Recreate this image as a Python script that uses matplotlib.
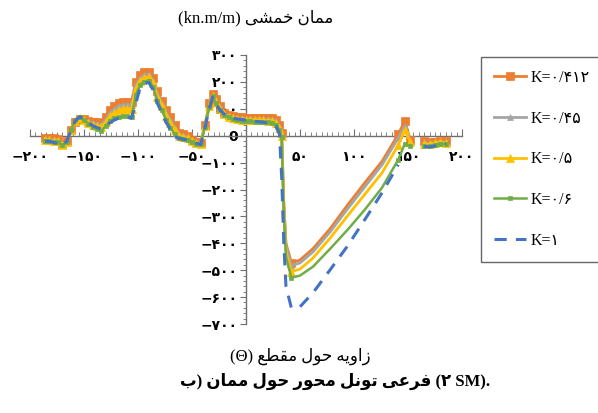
import matplotlib
matplotlib.use("Agg")
import numpy as np
import matplotlib.pyplot as plt
from matplotlib.ticker import FixedLocator, MultipleLocator, FuncFormatter
from matplotlib.font_manager import FontProperties

# ---------------- data ----------------
angle = [-186, -182, -178, -174, -170, -166, -162, -158, -154, -150,
         -146, -142, -138, -134, -130, -126, -122, -118, -114, -110,
         -106, -102, -98, -94, -90, -86, -82, -78, -74, -70,
         -66, -62, -58, -54, -50, -46, -42, -38, -34, -31,
         -28, -24, -20, -16, -12, -8, -4, 0, 4, 8,
         12, 16, 20, 24, 28, 31, 33, 35, 37, 42,
         50, 62, 78, 94, 110, 126, 141, 147, 152, np.nan,
         165, 170, 175, 180, 185]

m_k0412 = [-8, -10, -10, -12, -30, -20, 20, 50, 62, 62,
           55, 52, 50, 47, 70, 97, 110, 122, 125, 127,
           127, 200, 225, 235, 238, 215, 165, 130, 95, 71,
           40, 11, 5, 0, -15, -22, -26, 40, 120, 155,
           135, 110, 85, 78, 72, 70, 68, 67, 66, 66,
           66, 67, 67, 65, 60, 40, 11, -250, -400, -472,
           -462, -420, -345, -258, -175, -95, 5, 55, -15, np.nan,
           -20, -25, -22, -18, -20]

m_k045 = [-12, -14, -15, -16, -32, -22, 20, 52, 64, 60,
          52, 46, 42, 40, 60, 85, 98, 110, 113, 115,
          115, 190, 215, 225, 228, 205, 155, 120, 85, 60,
          30, 5, 0, -5, -18, -25, -28, 38, 115, 150,
          130, 105, 82, 74, 68, 66, 64, 63, 62, 62,
          62, 62, 61, 60, 55, 35, 5, -260, -410, -483,
          -473, -432, -357, -272, -190, -108, -8, 35, -18, np.nan,
          -25, -28, -25, -22, -24]

m_k05 = [-15, -17, -18, -20, -34, -24, 20, 55, 66, 58,
         48, 40, 35, 32, 50, 72, 85, 95, 98, 100,
         100, 175, 205, 215, 218, 195, 145, 110, 75, 48,
         20, 0, -5, -10, -20, -28, -30, 36, 110, 148,
         126, 100, 80, 70, 64, 62, 60, 60, 59, 58,
         58, 57, 56, 55, 48, 28, 0, -270, -430, -505,
         -496, -455, -380, -298, -218, -138, -35, 20, -22, np.nan,
         -30, -32, -28, -25, -28]

m_k06 = [-18, -20, -22, -25, -36, -22, 22, 58, 70, 58,
         45, 34, 25, 18, 35, 55, 65, 70, 72, 72,
         70, 150, 190, 200, 205, 180, 130, 95, 60, 30,
         5, -8, -12, -15, -22, -30, -32, 34, 105, 146,
         122, 96, 78, 68, 62, 58, 56, 54, 53, 52,
         52, 51, 50, 48, 40, 20, -5, -290, -450, -528,
         -520, -487, -420, -350, -275, -193, -89, -30, -38, np.nan,
         -38, -40, -35, -30, -32]

m_k1 = [-20, -22, -25, -30, -37, -20, 20, 55, 70, 62,
        48, 38, 30, 25, 35, 48, 58, 65, 68, 68,
        65, 120, 180, 195, 198, 170, 120, 85, 50, 22,
        -4, -10, -13, -16, -22, -28, -33, 30, 100, 143,
        120, 95, 80, 70, 65, 62, 60, 58, 56, 54,
        52, 50, 47, 44, 35, 5, -150, -400, -560, -640,
        -636, -584, -498, -410, -312, -212, -108, np.nan, np.nan, np.nan,
        -40, -42, -38, -32, -30]

x_ticks = [-200, -150, -100, -50, 50, 100, 150, 200]
y_ticks = [300, 200, 100, 0, -100, -200, -300, -400, -500, -600, -700]
legend_labels = ["K=۰/۴۱۲", "K=۰/۴۵", "K=۰/۵", "K=۰/۶", "K=۱"]

# ---------------- Persian shaping (visual order) ----------------
FORMS = {
    'ا': (0xFE8D, 0xFE8E),
    'ب': (0xFE8F, 0xFE90, 0xFE91, 0xFE92),
    'ت': (0xFE95, 0xFE96, 0xFE97, 0xFE98),
    'ح': (0xFEA1, 0xFEA2, 0xFEA3, 0xFEA4),
    'خ': (0xFEA5, 0xFEA6, 0xFEA7, 0xFEA8),
    'ر': (0xFEAD, 0xFEAE),
    'ز': (0xFEAF, 0xFEB0),
    'ش': (0xFEB5, 0xFEB6, 0xFEB7, 0xFEB8),
    'ط': (0xFEC1, 0xFEC2, 0xFEC3, 0xFEC4),
    'ع': (0xFEC9, 0xFECA, 0xFECB, 0xFECC),
    'ف': (0xFED1, 0xFED2, 0xFED3, 0xFED4),
    'ق': (0xFED5, 0xFED6, 0xFED7, 0xFED8),
    'ل': (0xFEDD, 0xFEDE, 0xFEDF, 0xFEE0),
    'م': (0xFEE1, 0xFEE2, 0xFEE3, 0xFEE4),
    'ن': (0xFEE5, 0xFEE6, 0xFEE7, 0xFEE8),
    'ه': (0xFEE9, 0xFEEA, 0xFEEB, 0xFEEC),
    'و': (0xFEED, 0xFEEE),
    'ی': (0xFEEF, 0xFEF0, 0xFEF3, 0xFEF4),
}


def shape(word):
    out = []
    n = len(word)
    for i, c in enumerate(word):
        f = FORMS.get(c)
        if f is None:
            out.append(c)
            continue
        prev = word[i - 1] if i > 0 else None
        nxt = word[i + 1] if i < n - 1 else None
        jp = prev in FORMS and len(FORMS[prev]) == 4
        jn = nxt in FORMS and len(f) == 4
        if jp and jn:
            g = f[3]
        elif jp:
            g = f[1]
        elif jn:
            g = f[2]
        else:
            g = f[0]
        out.append(chr(g))
    return ''.join(reversed(out))


title_txt = "(kn.m/m) " + shape("خمشی") + " " + shape("ممان")
xlabel_txt = "(Θ) " + shape("مقطع") + " " + shape("حول") + " " + shape("زاویه")
caption_txt = " ".join([shape("ب") + ")", shape("ممان"), shape("حول"), shape("محور"),
                        shape("تونل"), shape("فرعی"), "(۲", "SM)."])

FA = str.maketrans("0123456789", "۰۱۲۳۴۵۶۷۸۹")


def fa_num(v, pos=None):
    v = int(round(v))
    if v == 0:
        return "0"
    s = str(abs(v)).translate(FA)
    return ("−" if v < 0 else "") + s


# ---------------- figure ----------------
fig = plt.figure(figsize=(5.98, 4.13), dpi=100)
ax = fig.add_axes([30 / 598, 89 / 413, 432 / 598, 269 / 413])

x = np.array(angle, dtype=float)
mark_idx = list(range(0, 57)) + [59, 66, 67, 68, 70, 71, 72, 73, 74]

styles = [
    (m_k0412, "#ED7D31", "s", 5.5, 2.0),
    (m_k045, "#A5A5A5", "^", 5.0, 2.0),
    (m_k05, "#FFC000", "^", 5.5, 2.0),
    (m_k06, "#70AD47", "s", 3.5, 1.8),
]
handles = []
for ys, col, mk, ms, lw in styles:
    h, = ax.plot(x, np.array(ys, dtype=float), color=col, marker=mk, markersize=ms,
                 linewidth=lw, markevery=mark_idx, markeredgewidth=0.5,
                 markeredgecolor=col, zorder=3)
    handles.append(h)
h, = ax.plot(x, np.array(m_k1, dtype=float), color="#4472C4", linestyle=(0, (4, 3)),
             linewidth=2.2, zorder=4)
handles.append(h)

ax.set_xlim(-200, 200)
ax.set_ylim(-700, 300)

for side in ("top", "right"):
    ax.spines[side].set_visible(False)
ax.spines["left"].set_position(("data", 0))
ax.spines["bottom"].set_position(("data", 0))
for side in ("left", "bottom"):
    ax.spines[side].set_color("#707070")
    ax.spines[side].set_linewidth(1.0)

ax.xaxis.set_major_locator(FixedLocator(x_ticks))
ax.xaxis.set_minor_locator(MultipleLocator(5))
ax.yaxis.set_major_locator(FixedLocator(y_ticks))
ax.yaxis.set_minor_locator(MultipleLocator(20))
ax.xaxis.set_major_formatter(FuncFormatter(fa_num))
ax.yaxis.set_major_formatter(FuncFormatter(fa_num))

ax.tick_params(axis="x", which="major", direction="in", length=5, color="#707070",
               pad=10, labelsize=10)
ax.tick_params(axis="x", which="minor", direction="in", length=3, color="#707070")
ax.tick_params(axis="y", which="major", direction="out", length=4, color="#707070",
               pad=2, labelsize=10)
ax.tick_params(axis="y", which="minor", direction="out", length=2.5, color="#707070")
for lab in ax.get_xticklabels() + ax.get_yticklabels():
    lab.set_fontweight("bold")
    lab.set_family(["DejaVu Sans"])

fam = ["Liberation Serif", "DejaVu Sans"]
fig.text(256 / 598, 1 - 18 / 413, title_txt, ha="center", va="center",
         fontsize=12, family=fam)
fig.text(300 / 598, 1 - 356 / 413, xlabel_txt, ha="center", va="center",
         fontsize=12, family=fam)
fig.text(335 / 598, 1 - 381 / 413, caption_txt, ha="center", va="center",
         fontsize=12, family=fam, fontweight="bold")

leg = fig.legend(handles, legend_labels, loc="upper left",
                 bbox_to_anchor=(481 / 598, 1 - 57 / 413),
                 prop=FontProperties(family=fam, size=11.5),
                 frameon=True, fancybox=False, edgecolor="#404040",
                 labelspacing=1.55, handlelength=2.0, borderpad=0.8,
                 borderaxespad=0.0, handletextpad=0.3, markerscale=1.0)
leg.get_frame().set_linewidth(1.0)

fig.savefig("out.png", dpi=100)
